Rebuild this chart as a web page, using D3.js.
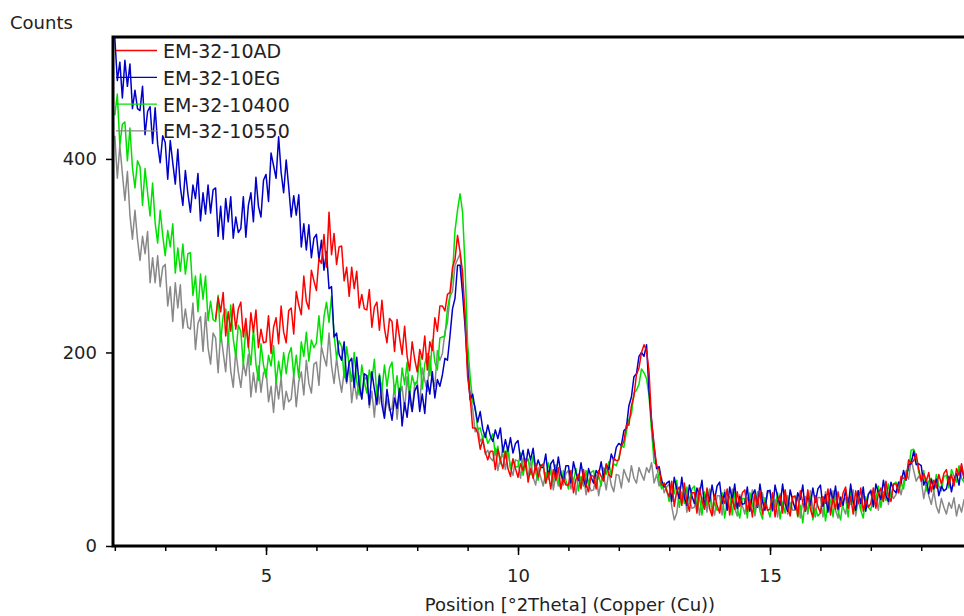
<!DOCTYPE html>
<html><head><meta charset="utf-8">
<script src="https://cdn.jsdelivr.net/npm/d3@7"></script>
<style>body{margin:0;background:#fff;} svg text{font-family:"DejaVu Sans",sans-serif;fill:#222;}</style>
</head><body><svg id="c" width="964" height="616"></svg>
<script>
// ---- data ----
const seriesNames = ["EM-32-10AD", "EM-32-10EG", "EM-32-10400", "EM-32-10550"];
const seriesColors = ["#ff0000", "#0000c8", "#00e000", "#888888"];
const xTickLabels = [5, 10, 15];
const xMinorTicks = [2, 3, 4, 5, 6, 7, 8, 9, 10, 11, 12, 13, 14, 15, 16, 17, 18, 19];
const yTickLabels = [0, 200, 400];
const stepDeg = 0.05;
const startAD = 4.0;
const startOthers = 2.0;
const xTitle = "Position [°2Theta] (Copper (Cu))";
const yTitle = "Counts";

const countsAD = [
234,257,242,262,217,242,222,250,224,245,
252,216,235,205,241,221,244,205,224,210,
211,238,199,226,236,209,248,221,210,243,
246,219,263,249,239,279,253,245,285,274,
264,297,292,322,288,345,301,323,291,309,
310,274,288,258,288,266,284,246,260,245,
244,265,226,247,252,223,254,225,210,235,
232,201,234,215,198,227,196,181,211,193,
180,203,193,217,182,211,202,236,222,248,
248,243,260,262,288,296,321,304,283,236,
175,154,122,122,117,100,110,97,89,98,
98,79,100,89,80,98,80,72,90,80,
71,85,78,90,66,80,70,85,71,82,
85,65,76,59,79,68,81,59,70,63,
63,78,55,69,74,59,79,63,56,73,
72,59,78,72,67,85,74,71,91,88,
89,103,108,125,125,145,155,177,184,200,
208,202,180,129,104,83,79,63,65,57,
51,67,41,57,61,42,65,46,36,55,
55,34,60,47,38,60,39,31,53,42,
34,51,44,59,32,49,38,56,41,55,
58,36,48,30,54,41,57,33,45,37,
38,55,30,47,52,34,58,40,31,51,
51,31,57,45,36,58,38,30,52,41,
34,51,44,59,32,49,38,56,41,55,
61,39,51,33,57,44,60,36,48,40,
44,60,39,54,60,46,67,52,46,64,
64,55,72,70,69,89,86,88,95,80,
67,75,67,76,56,68,60,74,64,75,
79,64,74,62,80,73,85,70,80,75
];

const countsEG = [
525,481,500,463,502,475,498,452,471,452,
450,475,425,449,454,416,453,415,396,424,
417,379,419,396,374,410,371,352,388,364,
345,373,359,385,336,365,343,373,344,368,
370,320,351,317,359,335,361,318,340,324,
328,361,319,352,365,335,381,351,340,378,
384,356,406,393,380,423,386,365,399,371,
340,362,342,363,309,333,306,332,298,318,
322,296,316,285,304,266,268,216,220,198,
192,211,170,190,194,164,195,166,152,178,
176,146,180,162,146,176,146,132,162,144,
130,153,142,163,124,148,133,160,139,160,
166,139,157,137,171,157,180,153,172,165,
177,194,192,217,245,256,290,290,261,226,
183,151,157,141,128,139,121,112,125,114,
108,120,111,122,97,110,98,112,96,106,
109,89,99,82,100,89,101,79,89,81,
81,95,72,85,89,73,92,75,67,83,
83,65,87,76,68,86,69,61,80,71,
65,78,74,87,70,84,79,95,88,102,
106,104,119,122,145,154,175,178,196,200,
196,208,159,129,102,80,82,67,61,65,
67,46,71,59,49,71,50,42,63,52,
44,60,53,68,40,57,46,63,48,62,
66,44,55,37,61,48,64,39,51,43,
44,61,36,53,58,40,64,46,37,57,
57,37,63,51,42,64,44,36,58,47,
38,55,48,63,36,53,42,60,45,59,
63,41,53,35,59,46,62,38,50,42,
58,40,64,46,37,57,44,61,36,53,
57,41,64,55,48,68,52,46,66,58,
55,66,65,78,68,84,85,98,84,85,
83,63,69,54,69,59,69,52,62,57,
59,72,56,69,75,63,82,70,65,81
];

const counts400 = [
445,467,414,436,438,398,432,391,370,398,
392,352,390,365,341,375,334,313,347,321,
300,326,309,333,282,308,284,312,281,302,
303,259,279,242,281,255,279,233,253,234,
232,259,211,238,245,210,249,214,196,228,
222,186,228,207,187,225,188,171,209,187,
174,197,186,207,168,191,174,200,178,198,
205,176,197,174,211,196,221,191,213,205,
210,238,207,237,252,231,258,219,194,212,
206,174,206,187,170,200,170,156,187,170,
158,182,171,193,154,178,161,187,165,184,
190,158,176,150,184,167,190,157,176,166,
170,196,162,188,199,176,213,190,182,215,
216,217,245,259,280,326,347,364,345,288,
209,175,149,144,120,122,111,117,106,111,
116,94,103,85,103,91,103,80,90,82,
82,96,73,86,90,74,93,76,68,84,
83,65,86,75,66,84,67,59,78,68,
59,74,67,80,57,72,62,78,64,76,
78,63,73,62,81,74,87,73,85,83,
91,104,102,118,131,136,158,161,167,183,
179,173,155,119,86,84,68,59,65,58,
46,62,54,68,40,56,44,61,46,59,
62,39,51,32,56,42,58,34,45,37,
38,55,29,46,51,32,56,38,29,49,
49,29,55,43,34,56,36,28,50,39,
30,47,40,55,28,45,34,52,37,51,
52,30,42,24,48,35,51,27,39,31,
34,51,26,43,48,30,54,36,27,47,
50,30,56,44,35,57,37,29,51,40,
37,53,48,62,40,56,47,64,51,64,
66,55,65,59,78,78,99,100,93,76,
70,78,57,67,70,57,74,62,57,72,
73,60,79,72,66,83,70,66,83,77
];

const counts550 = [
424,380,414,385,357,387,342,317,347,317,
295,320,302,325,272,298,272,300,268,288,
291,248,268,232,272,246,270,225,245,226,
224,251,203,230,237,201,241,205,188,220,
215,179,221,200,180,218,181,164,202,180,
164,189,176,198,154,179,159,186,159,179,
183,149,165,138,171,152,174,141,160,149,
152,178,144,170,180,156,192,168,158,188,
190,166,206,195,186,220,186,168,194,174,
159,180,168,188,148,170,152,176,152,171,
176,143,160,133,166,147,168,134,152,140,
142,166,131,156,165,140,175,150,139,168,
170,145,184,171,160,196,172,165,202,192,
199,221,231,258,263,290,296,302,266,241,
198,155,142,118,123,108,112,95,99,91,
88,101,78,91,95,79,98,81,73,89,
88,70,91,80,71,89,71,63,81,71,
62,76,69,82,58,73,62,78,63,75,
78,59,69,53,72,62,74,53,64,57,
58,74,52,67,72,58,78,63,56,74,
73,60,79,72,66,83,70,65,81,74,
68,81,76,86,65,74,62,70,55,61,
64,41,27,34,57,44,60,35,47,39,
40,57,32,48,53,35,59,41,32,52,
52,32,58,46,37,59,39,31,53,42,
33,50,43,58,31,48,37,55,40,54,
58,36,48,30,54,41,57,33,45,37,
37,54,29,46,51,33,57,39,30,50,
50,30,56,44,35,57,37,29,51,40,
33,50,43,58,31,48,37,55,40,54,
58,40,52,37,58,49,63,43,55,49,
53,64,53,66,74,69,90,78,67,72,
68,49,63,52,43,57,41,34,49,40,
33,45,39,50,31,43,35,48,38,48
];

// ---- chart ----
const svg = d3.select("#c");
const x = d3.scaleLinear().domain([1.964, 19.2]).range([113, 981.7]);
const y = d3.scaleLinear().domain([0, 526]).range([546, 37]);

const series = [
  {name: seriesNames[0], color: seriesColors[0], start: startAD, vals: countsAD},
  {name: seriesNames[1], color: seriesColors[1], start: startOthers, vals: countsEG},
  {name: seriesNames[2], color: seriesColors[2], start: startOthers, vals: counts400},
  {name: seriesNames[3], color: seriesColors[3], start: startOthers, vals: counts550}
];

svg.append("defs").append("clipPath").attr("id","plotclip")
  .append("rect").attr("x", x.range()[0]).attr("y", y.range()[1])
  .attr("width", x.range()[1]-x.range()[0]).attr("height", y.range()[0]-y.range()[1]);

const line = d3.line().x(d => x(d.x)).y(d => y(d.y));
const drawOrder = [3, 2, 1, 0];
const g = svg.append("g").attr("clip-path", "url(#plotclip)");
drawOrder.forEach(i => {
  const s = series[i];
  const pts = s.vals.map((v, k) => ({x: s.start + k*stepDeg, y: v}));
  g.append("path").datum(pts).attr("d", line)
    .attr("fill","none").attr("stroke", s.color).attr("stroke-width", 1.5)
    .attr("stroke-linejoin","round");
});

// axes: minor x ticks
const xMinor = d3.axisBottom(x).tickValues(xMinorTicks).tickSize(5).tickFormat("");
const gxm = svg.append("g").attr("transform", `translate(0,${y(0)})`).call(xMinor);
gxm.select(".domain").remove();
gxm.selectAll(".tick line").attr("stroke","#000").attr("stroke-width",1.5);

const xMajor = d3.axisBottom(x).tickValues(xTickLabels).tickSize(9).tickPadding(14);
const gx = svg.append("g").attr("transform", `translate(0,${y(0)})`).call(xMajor);
gx.select(".domain").remove();
gx.selectAll(".tick line").attr("stroke","#000").attr("stroke-width",1.5);
gx.selectAll(".tick text").attr("font-size", 18).attr("fill","#222")
  .style("font-family","DejaVu Sans, sans-serif");

const yAx = d3.axisLeft(y).tickValues(yTickLabels).tickSize(7).tickPadding(9);
const gy = svg.append("g").attr("transform", `translate(${x.range()[0]},0)`).call(yAx);
gy.select(".domain").remove();
gy.selectAll(".tick line").attr("stroke","#000").attr("stroke-width",1.5);
gy.selectAll(".tick text").attr("font-size", 18).attr("fill","#222")
  .style("font-family","DejaVu Sans, sans-serif");

// frame
const [x0, x1] = x.range();
svg.append("path")
  .attr("d", `M${x1},${y.range()[1]}H${x0}V${y.range()[0]}H${x1}`)
  .attr("fill","none").attr("stroke","#000").attr("stroke-width",3);

// titles
svg.append("text").attr("x", 10).attr("y", 29).attr("font-size", 18).text(yTitle);
svg.append("text").attr("x", 570).attr("y", 611).attr("font-size", 18)
  .attr("text-anchor","middle").text(xTitle);

// legend
const lg = svg.append("g");
series.forEach((s, i) => {
  const cy = 50.5 + i*26.8;
  lg.append("line").attr("x1", 116).attr("x2", 157).attr("y1", cy).attr("y2", cy)
    .attr("stroke", s.color).attr("stroke-width", 1.3);
  lg.append("text").attr("x", 163).attr("y", cy + 7.5).attr("font-size", 19).text(s.name);
});
</script></body></html>
